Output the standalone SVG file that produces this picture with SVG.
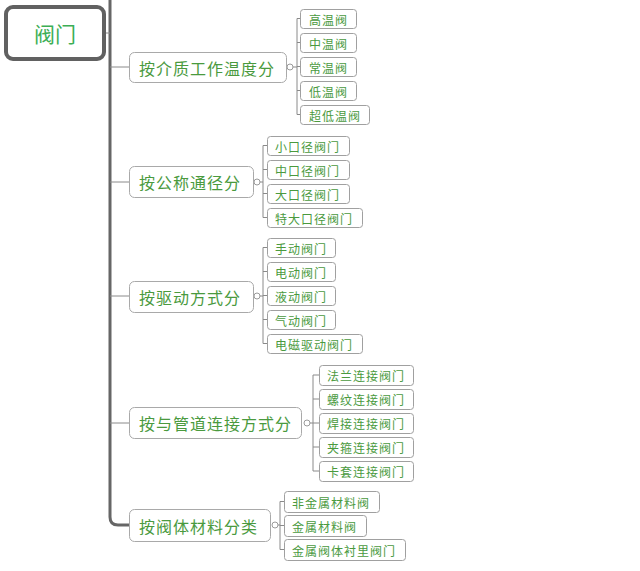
<svg xmlns="http://www.w3.org/2000/svg" width="640" height="571" viewBox="0 0 640 571">
<style>
text{font-family:"Noto Sans CJK SC","Noto Sans",sans-serif;}
.root rect{fill:#fff;stroke:#616161;stroke-width:4;}
.root text{fill:#3cae55;font-size:21px;text-anchor:middle;dominant-baseline:central;}
.br rect{fill:#fff;stroke:#a9a9a9;stroke-width:1;}
.br text{fill:#4a9a3e;font-size:16px;letter-spacing:1px;dominant-baseline:central;}
.lf rect{fill:#fff;stroke:#a0a0a0;stroke-width:1;}
.lf text{fill:#4a9a3e;font-size:12px;letter-spacing:1px;dominant-baseline:central;}
.trunk{fill:none;stroke:#666;stroke-width:3;}
.ln{fill:none;stroke:#8a8a8a;stroke-width:1;}
.dot{fill:#fff;stroke:#9a9a9a;stroke-width:1;}
</style>
<rect width="640" height="571" fill="#fff"/>
<g id="connectors">
<path class="trunk" d="M110,0 V517 Q110,525 118,525 H129"/>
<path class="ln" d="M104,33 H110"/>
<path class="ln" d="M110,67 H129 M110,182 H129 M110,296 H129 M110,423 H129"/>
<path class="ln" d="M293,67 H297 M297,18.5 V114.5 M297,18.5 H300 M297,42.5 H300 M297,66.5 H300 M297,90.5 H300 M297,114.5 H300"/>
<path class="ln" d="M260,182 H263 M263,145.5 V217.5 M263,145.5 H267 M263,169.5 H267 M263,193.5 H267 M263,217.5 H267"/>
<path class="ln" d="M260,296 H263 M263,247.5 V343.5 M263,247.5 H267 M263,271.5 H267 M263,295.5 H267 M263,319.5 H267 M263,343.5 H267"/>
<path class="ln" d="M310,423 H313 M313,375 V471 M313,375 H319 M313,399 H319 M313,423 H319 M313,447 H319 M313,471 H319"/>
<path class="ln" d="M278,525 H280 M280,501.5 V549.5 M280,501.5 H284 M280,525.5 H284 M280,549.5 H284"/>
<circle class="dot" cx="290" cy="67" r="3"/>
<circle class="dot" cx="257" cy="182" r="3"/>
<circle class="dot" cx="257" cy="296" r="3"/>
<circle class="dot" cx="307" cy="423" r="3"/>
<circle class="dot" cx="275" cy="525" r="3"/>
</g>
<g id="root" class="root"><rect x="6" y="7" width="98" height="52" rx="7"/><text x="55" y="33">阀门</text></g>
<g id="b1" class="br"><rect x="129.5" y="52.5" width="157" height="30" rx="5"/><text x="139" y="67.5">按介质工作温度分</text></g>
<g id="b2" class="br"><rect x="129.5" y="166.5" width="124" height="31" rx="5"/><text x="139" y="182">按公称通径分</text></g>
<g id="b3" class="br"><rect x="129.5" y="281.5" width="124" height="31" rx="5"/><text x="139" y="297">按驱动方式分</text></g>
<g id="b4" class="br"><rect x="129.5" y="407.5" width="172" height="31" rx="5"/><text x="139" y="423">按与管道连接方式分</text></g>
<g id="b5" class="br"><rect x="129.5" y="509.5" width="141" height="32" rx="5"/><text x="139" y="525.5">按阀体材料分类</text></g>
<g id="l1a" class="lf"><rect x="300.5" y="9.5" width="56" height="19" rx="3"/><text x="309" y="19">高温阀</text></g>
<g id="l1b" class="lf"><rect x="300.5" y="33.5" width="56" height="19" rx="3"/><text x="309" y="43">中温阀</text></g>
<g id="l1c" class="lf"><rect x="300.5" y="57.5" width="56" height="19" rx="3"/><text x="309" y="67">常温阀</text></g>
<g id="l1d" class="lf"><rect x="300.5" y="81.5" width="56" height="19" rx="3"/><text x="309" y="91">低温阀</text></g>
<g id="l1e" class="lf"><rect x="300.5" y="105.5" width="69" height="19" rx="3"/><text x="309" y="115">超低温阀</text></g>
<g id="l2a" class="lf"><rect x="267.5" y="136.5" width="82" height="19" rx="3"/><text x="275" y="146">小口径阀门</text></g>
<g id="l2b" class="lf"><rect x="267.5" y="160.5" width="82" height="19" rx="3"/><text x="275" y="170">中口径阀门</text></g>
<g id="l2c" class="lf"><rect x="267.5" y="184.5" width="82" height="19" rx="3"/><text x="275" y="194">大口径阀门</text></g>
<g id="l2d" class="lf"><rect x="267.5" y="208.5" width="95" height="19" rx="3"/><text x="275" y="218">特大口径阀门</text></g>
<g id="l3a" class="lf"><rect x="267.5" y="238.5" width="68" height="19" rx="3"/><text x="275" y="248">手动阀门</text></g>
<g id="l3b" class="lf"><rect x="267.5" y="262.5" width="68" height="19" rx="3"/><text x="275" y="272">电动阀门</text></g>
<g id="l3c" class="lf"><rect x="267.5" y="286.5" width="68" height="19" rx="3"/><text x="275" y="296">液动阀门</text></g>
<g id="l3d" class="lf"><rect x="267.5" y="310.5" width="68" height="19" rx="3"/><text x="275" y="320">气动阀门</text></g>
<g id="l3e" class="lf"><rect x="267.5" y="334.5" width="95" height="19" rx="3"/><text x="275" y="344">电磁驱动阀门</text></g>
<g id="l4a" class="lf"><rect x="319.5" y="365.5" width="94" height="20" rx="3"/><text x="327" y="375.5">法兰连接阀门</text></g>
<g id="l4b" class="lf"><rect x="319.5" y="389.5" width="94" height="20" rx="3"/><text x="327" y="399.5">螺纹连接阀门</text></g>
<g id="l4c" class="lf"><rect x="319.5" y="413.5" width="94" height="20" rx="3"/><text x="327" y="423.5">焊接连接阀门</text></g>
<g id="l4d" class="lf"><rect x="319.5" y="437.5" width="94" height="20" rx="3"/><text x="327" y="447.5">夹箍连接阀门</text></g>
<g id="l4e" class="lf"><rect x="319.5" y="461.5" width="94" height="20" rx="3"/><text x="327" y="471.5">卡套连接阀门</text></g>
<g id="l5a" class="lf"><rect x="284.5" y="491.5" width="95" height="21" rx="3"/><text x="292" y="502">非金属材料阀</text></g>
<g id="l5b" class="lf"><rect x="284.5" y="515.5" width="82" height="21" rx="3"/><text x="292" y="526">金属材料阀</text></g>
<g id="l5c" class="lf"><rect x="284.5" y="539.5" width="121" height="21" rx="3"/><text x="292" y="550">金属阀体衬里阀门</text></g>
</svg>
